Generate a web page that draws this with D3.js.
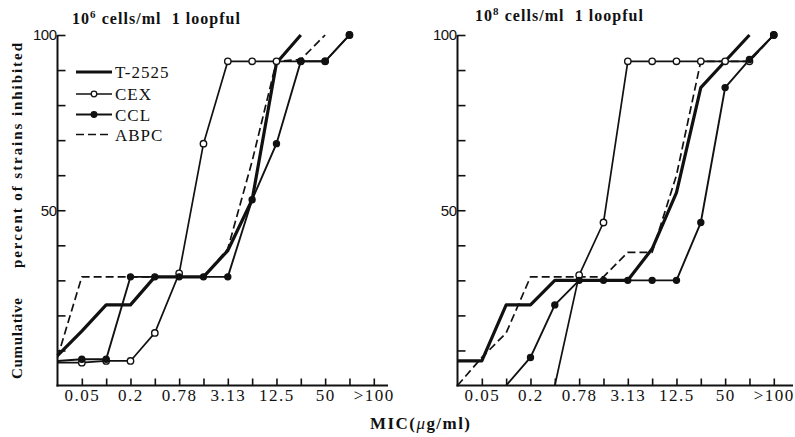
<!DOCTYPE html>
<html>
<head>
<meta charset="utf-8">
<script src="https://cdn.jsdelivr.net/npm/d3@7"></script>
<style>
  body { margin: 0; background: #fff; }
  svg { display: block; }
  text { font-family: "Liberation Serif", "DejaVu Serif", serif; fill: #111; white-space: pre; }
</style>
</head>
<body>
<div id="chart"></div>
<script>
// MIC dilution steps (index 0 = left edge of axis)
const mic = ["0.025", "0.05", "0.1", "0.2", "0.39", "0.78", "1.56", "3.13", "6.25", "12.5", "25", "50", "100", ">100"];
const micLabels = ["0.05", "0.2", "0.78", "3.13", "12.5", "50", ">100"];
const yTicks = [10, 20, 30, 40, 50, 60, 70, 80, 90, 100];
const yLabels = [50, 100];

// cumulative % of strains inhibited, 10^6 cells/ml
const t2525_1e6 = [8.5, 15.5, 23, 23, 31, 31, 31, 38.5, 53, 92, 100, null, null, null];
const cex_1e6   = [6.5, 6.5, 7, 7, 15, 32, 69, 92.5, 92.5, 92.5, 92.5, 92.5, 100, null];
const ccl_1e6   = [7, 7.5, 7.5, 31, 31, 31, 31, 31, 53, 69, 92.5, 92.5, 100, null];
const abpc_1e6  = [8, 31, 31, 31, 31, 31, 31, 39, 64, 92.5, 93, 100, null, null];

// cumulative % of strains inhibited, 10^8 cells/ml
const t2525_1e8 = [7, 7, 23, 23, 30, 30, 30, 30, 39, 55, 85, 92.5, 100, null];
const cex_1e8   = [null, null, null, null, 0, 31.5, 46.5, 92.5, 92.5, 92.5, 92.5, 92.5, 92.5, 100];
const ccl_1e8   = [null, null, 0, 8, 23, 30, 30, 30, 30, 30, 46.5, 85, 93, 100];
const abpc_1e8  = [0, 8, 15, 31, 31, 31, 31, 38, 38, 60, 92.5, 92.5, 92.5, 100];

const drugs = ["T-2525", "CEX", "CCL", "ABPC"];

const width = 795, height = 437;
const svg = d3.select('#chart').append('svg')
    .attr('width', width)
    .attr('height', height);

const y = d3.scaleLinear().domain([0, 100]).range([385.5, 35]);

// line style per drug
const styles = {
    "T-2525": { width: 3.2, dash: null, marker: null },
    "CEX":    { width: 1.7, dash: null, marker: 'open' },
    "CCL":    { width: 1.9, dash: null, marker: 'filled' },
    "ABPC":   { width: 1.7, dash: '8,4', marker: null }
};

const panels = [
    { x0: 57.5, axisEnd: 388, title: "6", titleX: 72, titleY: 24, titleLen: 168,
      series: [t2525_1e6, cex_1e6, ccl_1e6, abpc_1e6], legend: true },
    { x0: 457.5, axisEnd: 793, title: "8", titleX: 475, titleY: 21, titleLen: 168,
      series: [t2525_1e8, cex_1e8, ccl_1e8, abpc_1e8], legend: false }
];

panels.forEach(p => {
    const x = d3.scalePoint().domain(mic).range([p.x0, p.x0 + 24.33 * 13]);
    const g = svg.append('g');

    // y axis
    g.append('line')
        .attr('x1', p.x0).attr('x2', p.x0)
        .attr('y1', y(100)).attr('y2', y(0) + 1)
        .attr('stroke', '#111').attr('stroke-width', 2);
    const yAxis = d3.axisLeft(y)
        .tickValues(yTicks)
        .tickSizeInner(-8)
        .tickSizeOuter(0)
        .tickPadding(1)
        .tickFormat(d => yLabels.includes(d) ? d : '');
    const ya = g.append('g').attr('transform', `translate(${p.x0},0)`).call(yAxis);
    ya.select('.domain').remove();
    ya.selectAll('.tick line').attr('stroke', '#111').attr('stroke-width', 1.6);
    ya.selectAll('.tick text')
        .style('font-family', '"Liberation Sans", Arial, sans-serif')
        .style('font-size', '15px')
        .style('letter-spacing', '-0.5px')
        .attr('fill', '#111');

    // x axis
    g.append('line')
        .attr('x1', p.x0 - 1).attr('x2', p.axisEnd)
        .attr('y1', y(0)).attr('y2', y(0))
        .attr('stroke', '#111').attr('stroke-width', 2);
    const xAxis = d3.axisBottom(x)
        .tickValues(mic.slice(1))
        .tickSizeInner(-7)
        .tickSizeOuter(0)
        .tickPadding(3)
        .tickFormat(d => micLabels.includes(d) ? d : '');
    const xa = g.append('g').attr('transform', `translate(0,${y(0)})`).call(xAxis);
    xa.select('.domain').remove();
    xa.selectAll('.tick line').attr('stroke', '#111').attr('stroke-width', 1.6);
    xa.selectAll('.tick text')
        .style('font-family', '"Liberation Serif", serif')
        .style('font-size', '17px')
        .style('letter-spacing', '1.5px')
        .attr('fill', '#111');

    // panel title
    const t = g.append('text')
        .attr('x', p.titleX).attr('y', p.titleY)
        .attr('textLength', p.titleLen)
        .attr('lengthAdjust', 'spacing')
        .style('font-size', '16px')
        .style('font-weight', 'bold');
    t.append('tspan').text('10');
    t.append('tspan').attr('font-size', '11px').attr('dy', -6).text(p.title);
    t.append('tspan').attr('dy', 6).text(' cells/ml  1 loopful');

    // series lines
    const line = d3.line()
        .defined(d => d.v != null)
        .x(d => x(d.k))
        .y(d => y(d.v));

    p.series.forEach((vals, i) => {
        const name = drugs[i];
        const st = styles[name];
        const pts = vals.map((v, j) => ({ k: mic[j], v: v, j: j }));
        g.append('path')
            .datum(pts)
            .attr('d', line)
            .attr('fill', 'none')
            .attr('stroke', '#111')
            .attr('stroke-width', st.width)
            .attr('stroke-linejoin', 'round')
            .attr('stroke-dasharray', st.dash);
    });

    p.series.forEach((vals, i) => {
        const st = styles[drugs[i]];
        if (!st.marker) return;
        const pts = vals.map((v, j) => ({ k: mic[j], v: v, j: j }))
            .filter(d => d.v != null && d.v > 0 && d.j > 0);
        g.append('g').selectAll('circle')
            .data(pts)
            .enter()
            .append('circle')
            .attr('cx', d => x(d.k))
            .attr('cy', d => y(d.v))
            .attr('r', st.marker === 'open' ? 3.2 : 3)
            .attr('fill', st.marker === 'open' ? '#fff' : '#111')
            .attr('stroke', '#111')
            .attr('stroke-width', 1.4);
    });

    if (p.legend) {
        const rows = [72, 94, 114.5, 134.5];
        const lg = g.append('g');
        drugs.forEach((name, i) => {
            const st = styles[name];
            lg.append('line')
                .attr('x1', 76).attr('x2', 112)
                .attr('y1', rows[i]).attr('y2', rows[i])
                .attr('stroke', '#111')
                .attr('stroke-width', st.width)
                .attr('stroke-dasharray', st.dash);
            if (st.marker) {
                lg.append('circle')
                    .attr('cx', 94).attr('cy', rows[i])
                    .attr('r', 2.8)
                    .attr('fill', st.marker === 'open' ? '#fff' : '#111')
                    .attr('stroke', '#111').attr('stroke-width', 1.3);
            }
            lg.append('text')
                .attr('x', 115).attr('y', rows[i] + 6)
                .style('font-size', '17px')
                .style('letter-spacing', '1px')
                .text(name);
        });
    }
});

// y axis title (rotated)
svg.append('text')
    .attr('transform', 'translate(22,379) rotate(-90)')
    .attr('textLength', 81)
    .attr('lengthAdjust', 'spacing')
    .style('font-size', '15px')
    .style('font-weight', 'bold')
    .text('Cumulative');
svg.append('text')
    .attr('transform', 'translate(22,268) rotate(-90)')
    .attr('textLength', 225)
    .attr('lengthAdjust', 'spacing')
    .style('font-size', '15px')
    .style('font-weight', 'bold')
    .text('percent of strains inhibited');

// x axis title
const xt = svg.append('text')
    .attr('x', 370).attr('y', 429)
    .attr('textLength', 100)
    .attr('lengthAdjust', 'spacing')
    .style('font-size', '17px')
    .style('font-weight', 'bold');
xt.append('tspan').text('MIC(');
xt.append('tspan').style('font-weight', 'normal').style('font-style', 'italic').text('μ');
xt.append('tspan').text('g/ml)');
</script>
</body>
</html>
